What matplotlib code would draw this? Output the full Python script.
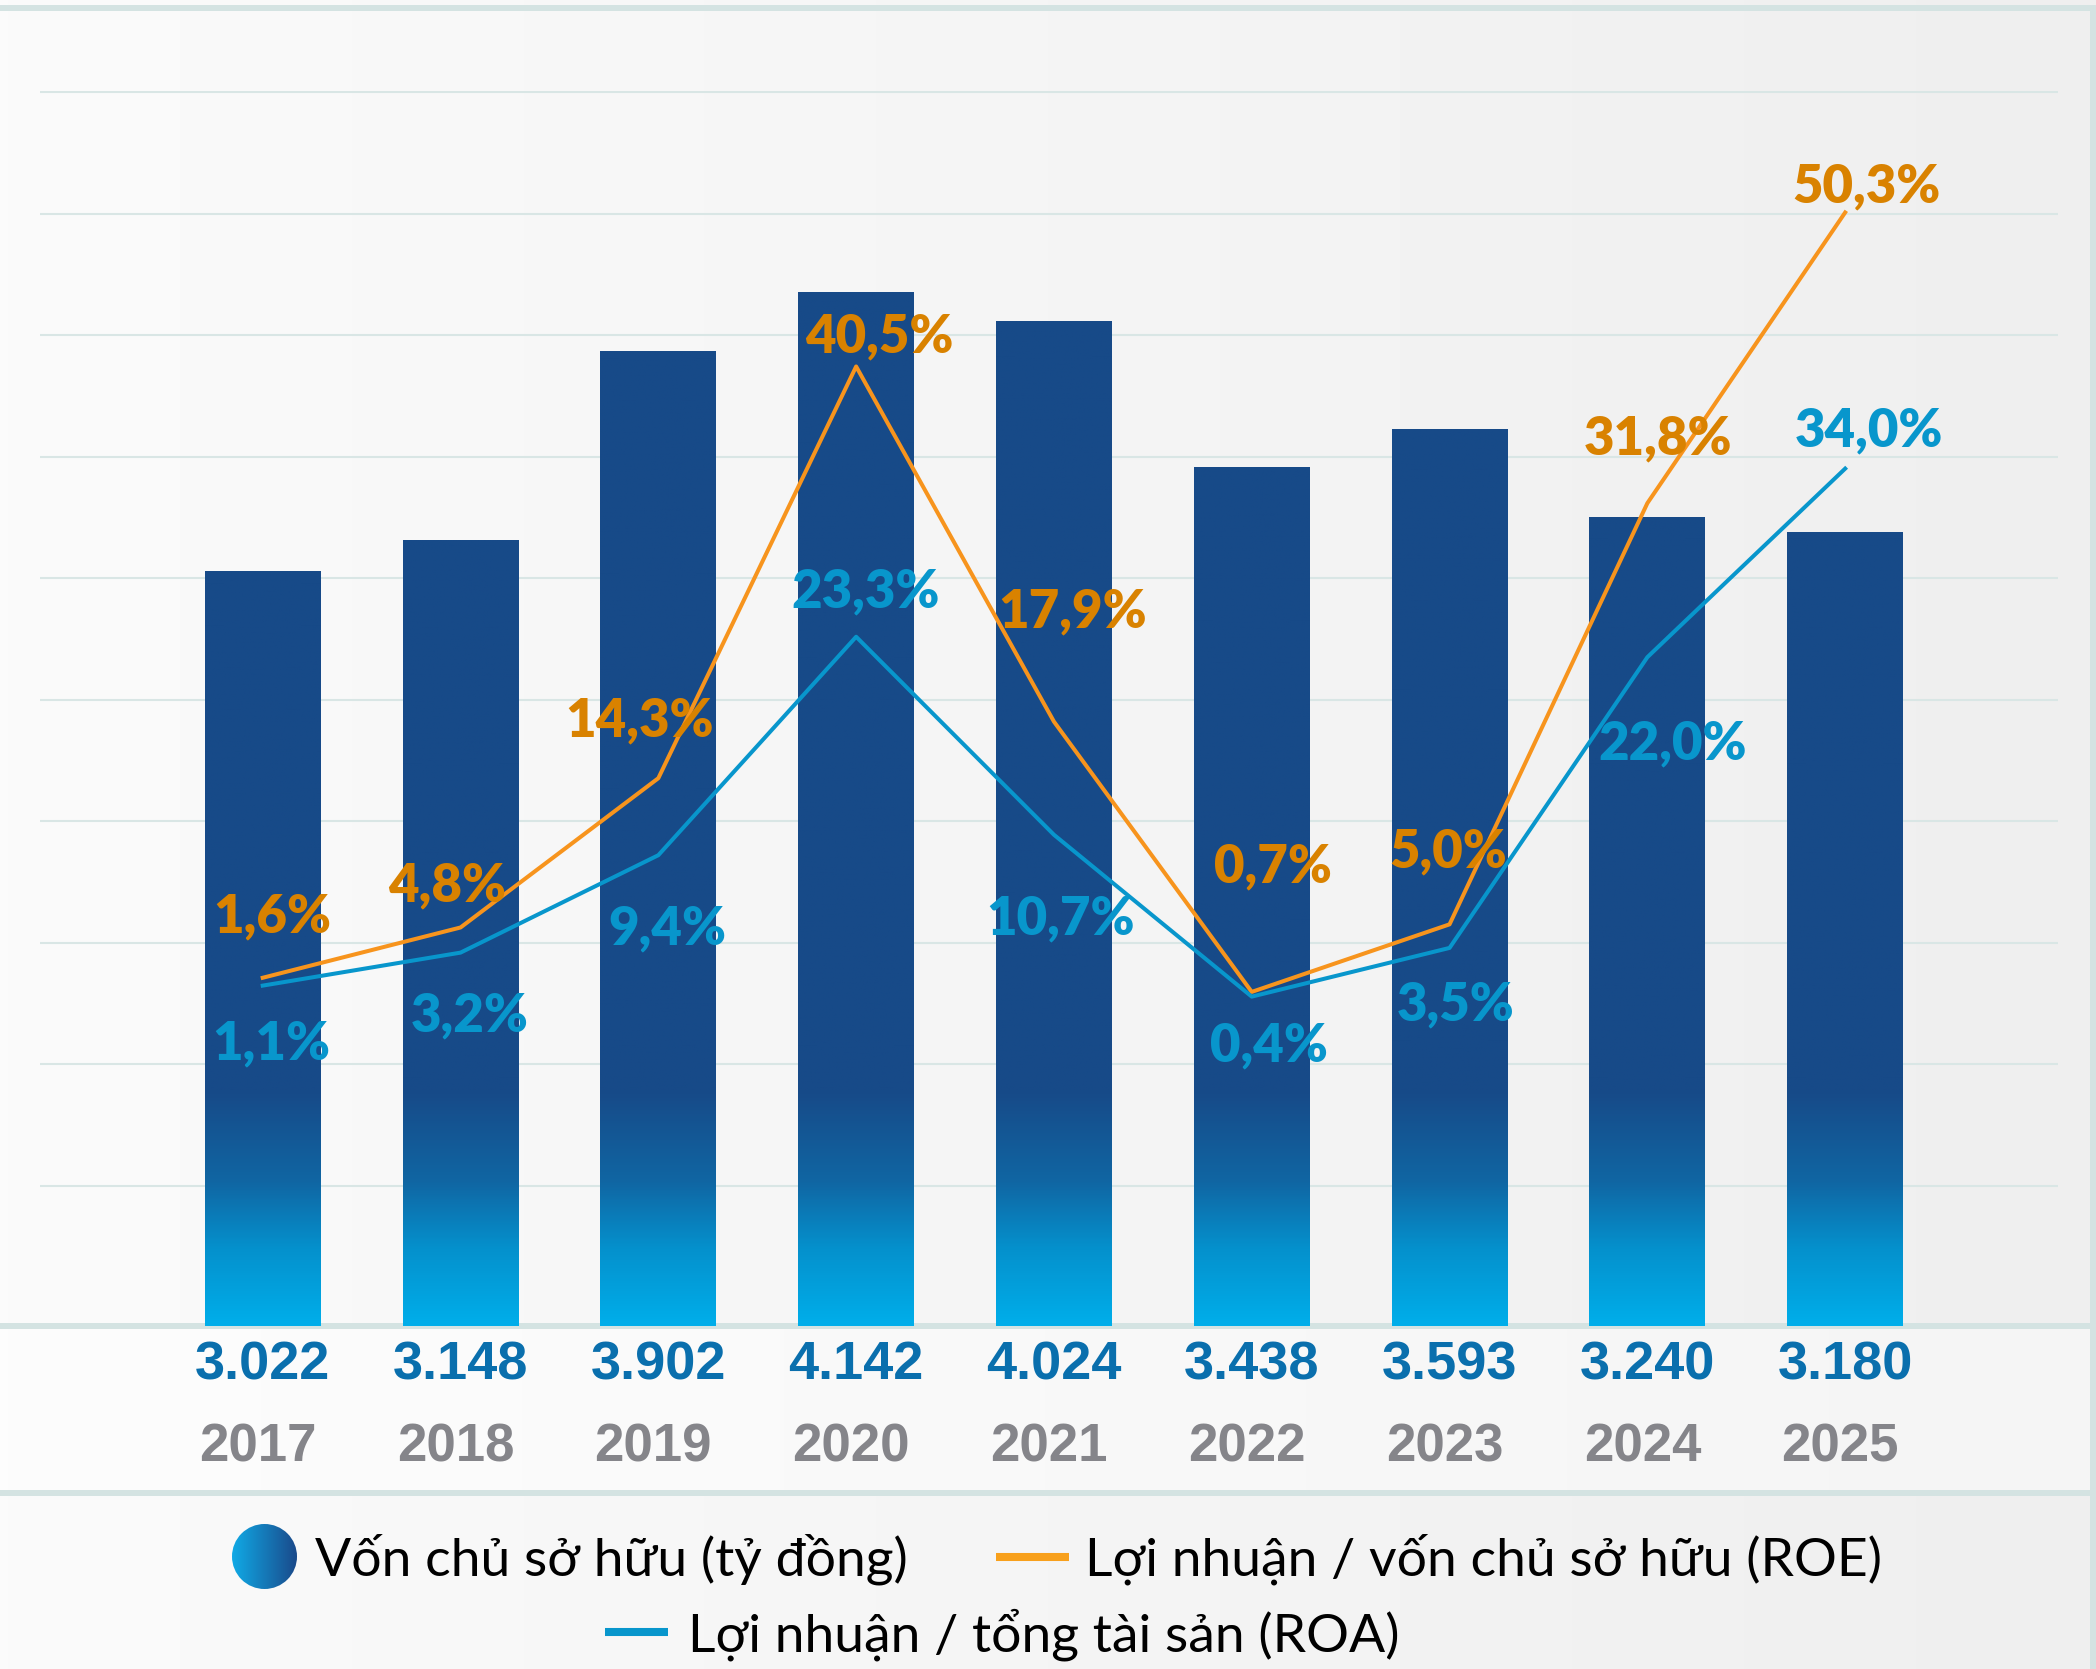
import numpy as np
import matplotlib
matplotlib.use("Agg")
import matplotlib.pyplot as plt
from matplotlib.colors import LinearSegmentedColormap
from matplotlib.patches import Rectangle, Circle

plt.rcParams.update({
    "font.family": ["Lato", "DejaVu Sans"],
    "axes.linewidth": 0,
})

# data
years = ["2017", "2018", "2019", "2020", "2021", "2022", "2023", "2024", "2025"]
equity = [3022, 3148, 3902, 4142, 4024, 3438, 3593, 3240, 3180]   # ty dong
roe = [1.6, 4.8, 14.3, 40.5, 17.9, 0.7, 5.0, 31.8, 50.3]
roa = [1.1, 3.2, 9.4, 23.3, 10.7, 0.4, 3.5, 22.0, 34.0]

legend_labels = ["Vốn chủ sở hữu (tỷ đồng)",
                 "Lợi nhuận / vốn chủ sở hữu (ROE)",
                 "Lợi nhuận / tổng tài sản (ROA)"]

# label offsets in pixels from each point (dx, dy up), text centre
roe_off = [(10, 63), (-13, 44), (-19, 60), (23, 32), (19, 112), (21, 127), (-1, 75), (11, 67), (21, 28)]
roa_off = [(9, -56), (9, -61), (9, -71), (9, 47), (7, -82), (17, -47), (6, -55), (25, -84), (24, 40)]

BAR_DARK = "#174a88"
ROE_LINE = "#f7941d"
ROE_TEXT = "#d98200"
ROA_LINE = "#0896cc"
ROA_TEXT = "#0896cc"
VAL_TEXT = "#0a6fad"
YEAR_TEXT = "#85858a"
BAND = "#d4e3e2"
GRID = "#d9e6e5"

W, H = 2096, 1669
fig = plt.figure(figsize=(W / 100, H / 100), dpi=100)

# background, drawn in pixel coordinates
bg = fig.add_axes([0, 0, 1, 1], zorder=0)
bg.set_xlim(0, W)
bg.set_ylim(H, 0)
bg.axis("off")
grad = np.linspace(0, 1, 256).reshape(1, -1)
bg.imshow(grad, cmap=LinearSegmentedColormap.from_list("bg", ["#fbfbfb", "#efefef"]),
          extent=[0, W, H, 0], aspect="auto")
bg.imshow(grad, cmap=LinearSegmentedColormap.from_list("band", ["#fdfdfd", "#f5f5f5"]),
          extent=[0, 2090, 1491, 1328], aspect="auto")
bg.set_xlim(0, W)
bg.set_ylim(H, 0)
for y0 in [5, 1323, 1490]:
    bg.add_patch(Rectangle((0, y0), 2091, 6, color=BAND, lw=0))
bg.add_patch(Rectangle((2090, 5), 6, H, color=BAND, lw=0))

# main axes: bars
L, R, B, T = 40, 2058, 1326, 91
ax = fig.add_axes([L / W, (H - B) / H, (R - L) / W, (B - T) / H], zorder=2)
ax.patch.set_alpha(0)
x = np.arange(len(years))
YMAX = 4945
for k in range(10):
    ax.axhline(562 + 486.4 * k, color=GRID, lw=1.5, zorder=0)

bar_cmap = LinearSegmentedColormap.from_list(
    "bar", [(0, "#00aeea"), (0.33, "#0590cc"), (0.61, "#1066a3"), (1, BAR_DARK)])
col = np.clip(np.linspace(0, YMAX, 500) / 940, 0, 1).reshape(-1, 1)
bw = 0.586
bars = ax.bar(x, equity, width=bw, color="none", lw=0, zorder=2)
for b in bars:
    im = ax.imshow(col, cmap=bar_cmap, vmin=0, vmax=1, origin="lower", aspect="auto",
                   extent=[b.get_x(), b.get_x() + bw, 0, YMAX], zorder=2)
    im.set_clip_path(b)

ax.set_xlim(-1.126, 9.076)
ax.set_ylim(0, YMAX)
ax.set_xticks([])
ax.set_yticks([])

for i, v in enumerate(equity):
    ax.annotate(f"{v:,}".replace(",", "."), (i, 0), xytext=(0, -53), textcoords="offset pixels",
                ha="center", va="baseline", fontsize=39, fontweight="bold",
                family="Liberation Sans", color=VAL_TEXT, annotation_clip=False)
    ax.annotate(years[i], (i, 0), xytext=(-5, -135), textcoords="offset pixels",
                ha="center", va="baseline", fontsize=38, fontweight="bold",
                family="Liberation Sans", color=YEAR_TEXT, annotation_clip=False)

# lines on a second scale
ax2 = ax.twinx()
ax2.set_ylim(-20.56, 58.03)
ax2.set_yticks([])
ax2.plot(x, roe, color=ROE_LINE, lw=2.9, zorder=3)
ax2.plot(x, roa, color=ROA_LINE, lw=2.9, zorder=3)
for i in range(len(years)):
    dx, dy = roe_off[i]
    ax2.annotate(f"{roe[i]:.1f}".replace(".", ",") + "%", (i, roe[i]), xytext=(dx, dy - 18),
                 textcoords="offset pixels", ha="center", va="baseline", fontsize=38,
                 fontweight="heavy", color=ROE_TEXT, zorder=4, annotation_clip=False)
    dx, dy = roa_off[i]
    ax2.annotate(f"{roa[i]:.1f}".replace(".", ",") + "%", (i, roa[i]), xytext=(dx, dy - 18),
                 textcoords="offset pixels", ha="center", va="baseline", fontsize=38,
                 fontweight="heavy", color=ROA_TEXT, zorder=4, annotation_clip=False)

# legend, hand placed
leg = fig.add_axes([0, 0, 1, 1], zorder=3)
leg.set_xlim(0, W)
leg.set_ylim(H, 0)
leg.axis("off")
dot = leg.imshow(grad, cmap=LinearSegmentedColormap.from_list("dot", ["#10aae6", "#1a4a8b"]),
                 extent=[232, 297, 1590, 1523], aspect="auto")
dot.set_clip_path(Circle((264.5, 1556.5), 32.5, transform=leg.transData))
leg.set_xlim(0, W)
leg.set_ylim(H, 0)
leg.text(315, 1575, legend_labels[0], fontsize=38.5, va="baseline", color="black")
leg.plot([996, 1069], [1557, 1557], color="#f8a01c", lw=5.8, solid_capstyle="butt")
leg.text(1085, 1575, legend_labels[1], fontsize=38.5, va="baseline", color="black")
leg.plot([605, 668], [1632, 1632], color=ROA_LINE, lw=5.8, solid_capstyle="butt")
leg.text(688, 1651, legend_labels[2], fontsize=38.5, va="baseline", color="black")

fig.savefig("out.png", dpi=100)
